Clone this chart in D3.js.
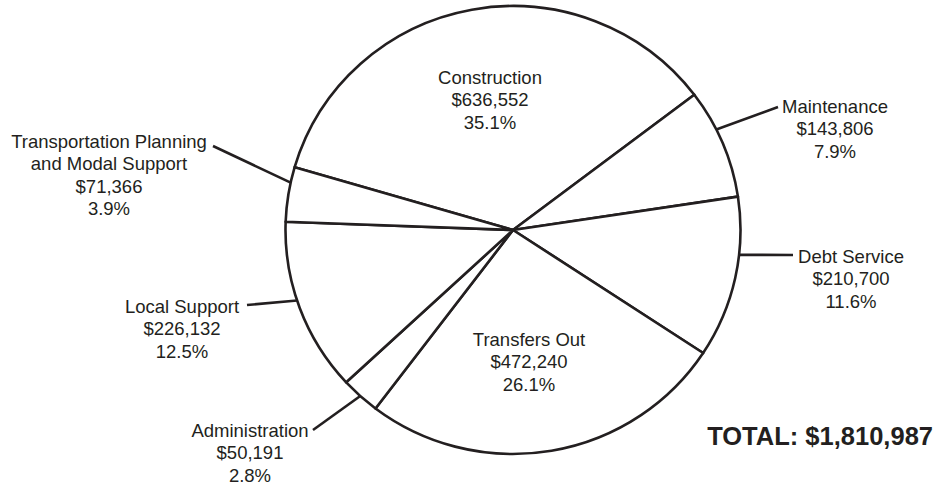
<!DOCTYPE html>
<html>
<head>
<meta charset="utf-8">
<script src="https://cdn.jsdelivr.net/npm/d3@7"></script>
<style>
  body { margin: 0; background: #fff; }
  svg { display: block; font-family: "Liberation Sans", Arial, sans-serif; }
</style>
</head>
<body>
<svg id="chart" width="941" height="487"></svg>
<script>
// chart data
var categories = ["Construction", "Maintenance", "Debt Service", "Transfers Out",
                  "Administration", "Local Support", "Transportation Planning and Modal Support"];
var labelLines = [["Construction"], ["Maintenance"], ["Debt Service"], ["Transfers Out"],
                  ["Administration"], ["Local Support"], ["Transportation Planning", "and Modal Support"]];
var amounts = [636552, 143806, 210700, 472240, 50191, 226132, 71366];
var totalLabel = "TOTAL: ";

// label placement (x, first baseline, leader end, leader angle nudge in degrees)
var labelLayout = [
  {x: 490, y: 84,  lead: null},
  {x: 835, y: 113, lead: [778, 107], nudge: -3.8},
  {x: 851, y: 263, lead: [793, 255], nudge: -6},
  {x: 529, y: 346, lead: null},
  {x: 250, y: 437, lead: [313, 430], nudge: 0},
  {x: 182, y: 313, lead: [247, 305], nudge: 2},
  {x: 109, y: 148, lead: [213, 146], nudge: 3}
];

var ink = "#231f20";
var cx = 513, cy = 230, rx = 227.5, ry = 224;
var lineH = 22.4;

var svg = d3.select("#chart");
var total = d3.sum(amounts);
var money = d3.format("$,");
var pct = d3.format(".1%");

var data = categories.map(function(c, i) { return {name: c, value: amounts[i], i: i}; });

var start = -73.7 * Math.PI / 180;
var pie = d3.pie().sort(null).value(function(d) { return d.value; })
  .startAngle(start).endAngle(start + 2 * Math.PI);
var arcs = pie(data);
var arc = d3.arc().innerRadius(0).outerRadius(ry);

var g = svg.append("g").attr("transform", "translate(" + cx + "," + cy + ") scale(" + (rx / ry) + ",1)");
g.selectAll("path").data(arcs).enter().append("path")
  .attr("d", arc)
  .attr("fill", "#fff")
  .attr("stroke", ink)
  .attr("stroke-width", 2.6)
  .attr("vector-effect", "non-scaling-stroke")
  .attr("stroke-linejoin", "round");

// leader lines
function onRim(a) { return [cx + rx * Math.sin(a), cy - ry * Math.cos(a)]; }
svg.append("g").selectAll("line").data(arcs.filter(function(d) { return labelLayout[d.data.i].lead; }))
  .enter().append("line")
  .each(function(d) {
    var L = labelLayout[d.data.i];
    var p = onRim((d.startAngle + d.endAngle) / 2 + L.nudge * Math.PI / 180);
    d3.select(this).attr("x1", p[0]).attr("y1", p[1]).attr("x2", L.lead[0]).attr("y2", L.lead[1]);
  })
  .attr("stroke", ink).attr("stroke-width", 2.6);

// labels
var labels = svg.append("g").selectAll("text").data(arcs).enter().append("text")
  .attr("text-anchor", "middle")
  .attr("fill", ink)
  .style("font-size", "18.5px");
labels.each(function(d) {
  var L = labelLayout[d.data.i];
  var lines = labelLines[d.data.i].concat([money(d.data.value), pct(d.data.value / total)]);
  var t = d3.select(this);
  lines.forEach(function(s, k) {
    t.append("tspan").attr("x", L.x).attr("y", L.y + k * lineH).text(s);
  });
});

svg.append("text")
  .attr("x", 933).attr("y", 445)
  .attr("text-anchor", "end")
  .attr("fill", ink)
  .style("font-size", "25.5px").style("font-weight", "bold")
  .text(totalLabel + money(total));
</script>
</body>
</html>
